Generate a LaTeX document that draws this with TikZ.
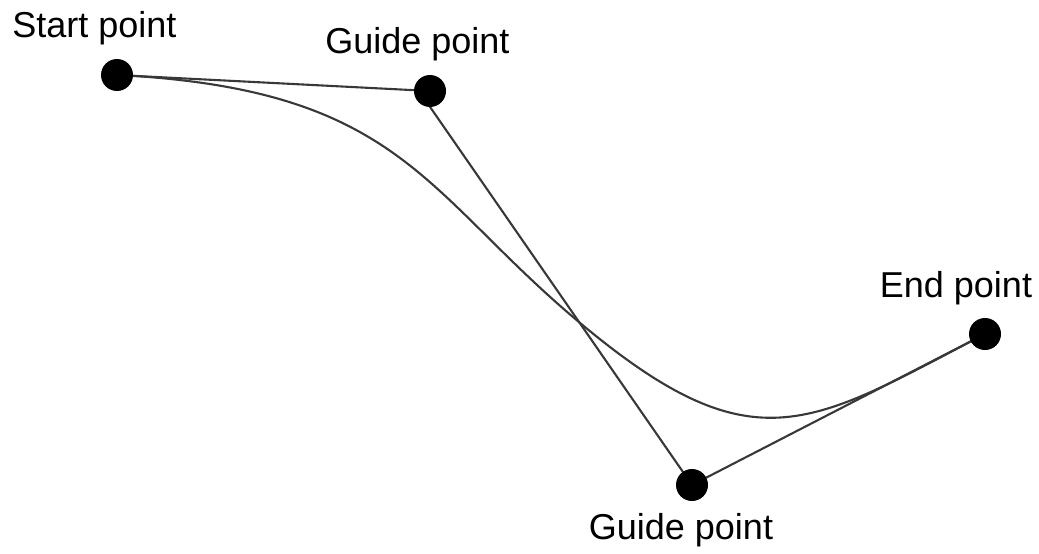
\documentclass[tikz,border=0pt]{standalone}
\usepackage{fontspec}
\setmainfont{Liberation Sans}
\usetikzlibrary{calc}
\tikzset{
  dot/.style={circle, fill=black, inner sep=0pt, minimum size=32pt},
  guide/.style={line width=2.1pt, black!78},
  label/.style={anchor=base, inner sep=0pt, font=\fontsize{36}{40}\selectfont}
}
\begin{document}
\begin{tikzpicture}[x=1pt, y=-1pt]
  \useasboundingbox (0,0) rectangle (1039,554);
  % anchor points of the curve
  \coordinate (s)  at (117,75);
  \coordinate (g1) at (430,91);
  \coordinate (g1a) at (419,91);
  \coordinate (g2) at (692,485);
  \coordinate (e)  at (985,334);
  % point where the curve turns from falling to flattening
  \coordinate (m)  at (573,317);
  % control polygon
  \draw[guide] (s) -- (g1);
  \draw[guide] (g1a) -- (g2) -- (e);
  % the curve itself, in two smooth pieces
  \draw[guide] (s) .. controls (397,89) and (423,189.5) .. (m)
                   .. controls (753,470) and (807.6,426.4) .. (e);
  % point markers
  \node[dot] (sd)  at (s)  {};
  \node[dot] (g1d) at (g1) {};
  \node[dot] (g2d) at (g2) {};
  \node[dot] (ed)  at (e)  {};
  % labels
  \node[label] (sl)  at (94.5,37)  {Start point};
  \node[label] (g1l) at (417.5,53) {Guide point};
  \node[label] (el)  at (956,297)  {End point};
  \node[label] (g2l) at (681,539)  {Guide point};
\end{tikzpicture}
\end{document}
